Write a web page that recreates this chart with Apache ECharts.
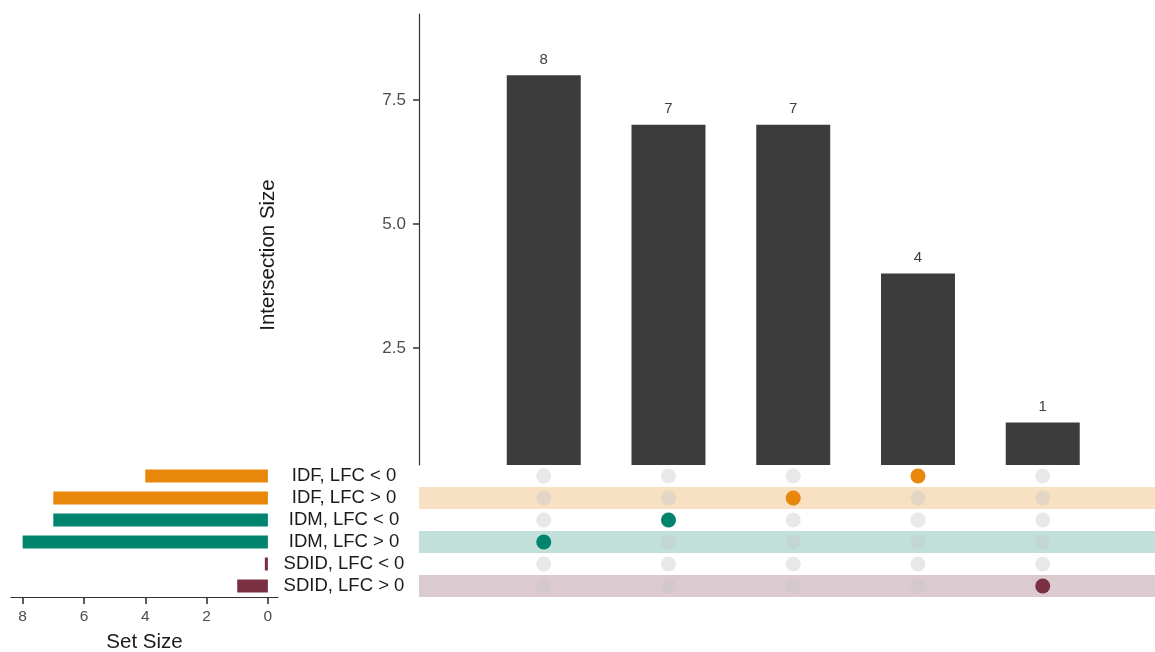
<!DOCTYPE html>
<html>
<head>
<meta charset="utf-8">
<script src="https://cdn.jsdelivr.net/npm/echarts@6/dist/echarts.min.js"></script>
<style>
html,body{margin:0;padding:0;background:#fff;}
#chart{width:1155px;height:652px;}
</style>
</head>
<body>
<div id="chart"></div>
<script>
// ---- data ----
const sets = ['IDF, LFC < 0', 'IDF, LFC > 0', 'IDM, LFC < 0', 'IDM, LFC > 0', 'SDID, LFC < 0', 'SDID, LFC > 0'];
const setSizes = [4, 7, 7, 8, 0.1, 1];
const setGroups = ['IDF', 'IDF', 'IDM', 'IDM', 'SDID', 'SDID'];
const interSizes = [8, 7, 7, 4, 1];
const interMembers = ['IDM, LFC > 0', 'IDM, LFC < 0', 'IDF, LFC > 0', 'IDF, LFC < 0', 'SDID, LFC > 0'];
const bandSets = ['IDF, LFC > 0', 'IDM, LFC > 0', 'SDID, LFC > 0'];
const intersectionTicks = [2.5, 5.0, 7.5];
const setSizeTicks = [0, 2, 4, 6, 8];

const groupColor = { IDF: '#E8870A', IDM: '#00846D', SDID: '#7B2F43' };
const groupBand = { IDF: '#F8E0C2', IDM: '#C1E0DA', SDID: '#DBCAD0' };
const FONT = 'Liberation Sans, Arial, sans-serif';

const groupOf = s => setGroups[sets.indexOf(s)];

const barData = interSizes.map((v, i) => [i, v]);
const greyDots = [];
interSizes.forEach((v, i) => sets.forEach(s => greyDots.push([i, s])));
const memberDots = interMembers.map((s, i) => ({ value: [i, s], itemStyle: { color: groupColor[groupOf(s)], opacity: 1 } }));
const bandData = bandSets.map(s => ({ value: [0, s], color: groupBand[groupOf(s)] }));
const setBarData = setSizes.map((v, i) => ({ value: v, itemStyle: { color: groupColor[setGroups[i]] } }));

const chart = echarts.init(document.getElementById('chart'));
chart.setOption({
  animation: false,
  backgroundColor: '#ffffff',
  textStyle: { fontFamily: FONT },
  grid: [
    { left: 419, right: 0, top: 14, height: 451, outerBoundsMode: 'none', containLabel: false },
    { left: 419, right: 0, top: 465, height: 132, outerBoundsMode: 'none', containLabel: false },
    { left: 11, width: 267, top: 465, height: 132, outerBoundsMode: 'none', containLabel: false }
  ],
  xAxis: [
    { gridIndex: 0, type: 'value', min: -1, max: 4.9, show: false },
    { gridIndex: 1, type: 'value', min: -1, max: 4.9, show: false },
    {
      gridIndex: 2, type: 'value', inverse: true, min: -0.33, max: 8.38,
      axisLine: { show: true, onZero: false, lineStyle: { color: '#333', width: 1.2 } },
      axisTick: { show: true, inside: false, length: 7, lineStyle: { color: '#333', width: 1.6 }, customValues: setSizeTicks },
      axisLabel: { customValues: setSizeTicks, color: '#4D4D4D', fontSize: 15.5, margin: 12, fontFamily: FONT },
      splitLine: { show: false },
      name: 'Set Size', nameLocation: 'middle', nameGap: 35,
      nameTextStyle: { fontSize: 20.5, color: '#1a1a1a', fontFamily: FONT }
    }
  ],
  yAxis: [
    {
      gridIndex: 0, type: 'value', min: 0.141, max: 9.234,
      axisLine: { show: true, onZero: false, lineStyle: { color: '#333', width: 1.2 } },
      axisTick: { show: true, length: 6, lineStyle: { color: '#333', width: 1.5 }, customValues: intersectionTicks },
      axisLabel: { customValues: intersectionTicks, formatter: v => v.toFixed(1), color: '#4D4D4D', fontSize: 17, margin: 13, fontFamily: FONT },
      splitLine: { show: false }
    },
    {
      gridIndex: 1, type: 'category', data: sets, inverse: true,
      axisLine: { show: false }, axisTick: { show: false },
      axisLabel: { interval: 0, align: 'center', margin: 75, fontSize: 18.5, color: '#1a1a1a', fontFamily: FONT },
      splitLine: { show: false }
    },
    {
      gridIndex: 2, type: 'category', data: sets, inverse: true, show: false
    }
  ],
  graphic: [
    {
      type: 'text', x: 268, y: 255, rotation: Math.PI / 2,
      style: { text: 'Intersection Size', fontSize: 20.5, fill: '#1a1a1a', fontFamily: FONT, align: 'center', verticalAlign: 'middle' }
    }
  ],
  series: [
    {
      type: 'bar', xAxisIndex: 0, yAxisIndex: 0, data: barData, barWidth: 74,
      itemStyle: { color: '#3C3C3C' },
      label: { show: true, position: 'top', distance: 8, color: '#404040', fontSize: 15, fontFamily: FONT, formatter: p => p.value[1] }
    },
    {
      type: 'custom', xAxisIndex: 1, yAxisIndex: 1, data: bandData, z: 1,
      renderItem: (params, api) => {
        const p = api.coord([0, api.value(1)]);
        const h = api.size([0, 1])[1];
        const cs = params.coordSys;
        return { type: 'rect', shape: { x: cs.x, y: p[1] - h / 2, width: cs.width, height: h },
                 style: { fill: bandData[params.dataIndex].color } };
      }
    },
    {
      type: 'scatter', xAxisIndex: 1, yAxisIndex: 1, data: greyDots, symbolSize: 15, z: 3,
      itemStyle: { color: 'rgba(200,200,200,0.42)', opacity: 1 }
    },
    {
      type: 'scatter', xAxisIndex: 1, yAxisIndex: 1, data: memberDots, symbolSize: 15, z: 4,
      itemStyle: { opacity: 1 }
    },
    {
      type: 'bar', xAxisIndex: 2, yAxisIndex: 2, data: setBarData, barWidth: 13
    }
  ]
});
</script>
</body>
</html>
